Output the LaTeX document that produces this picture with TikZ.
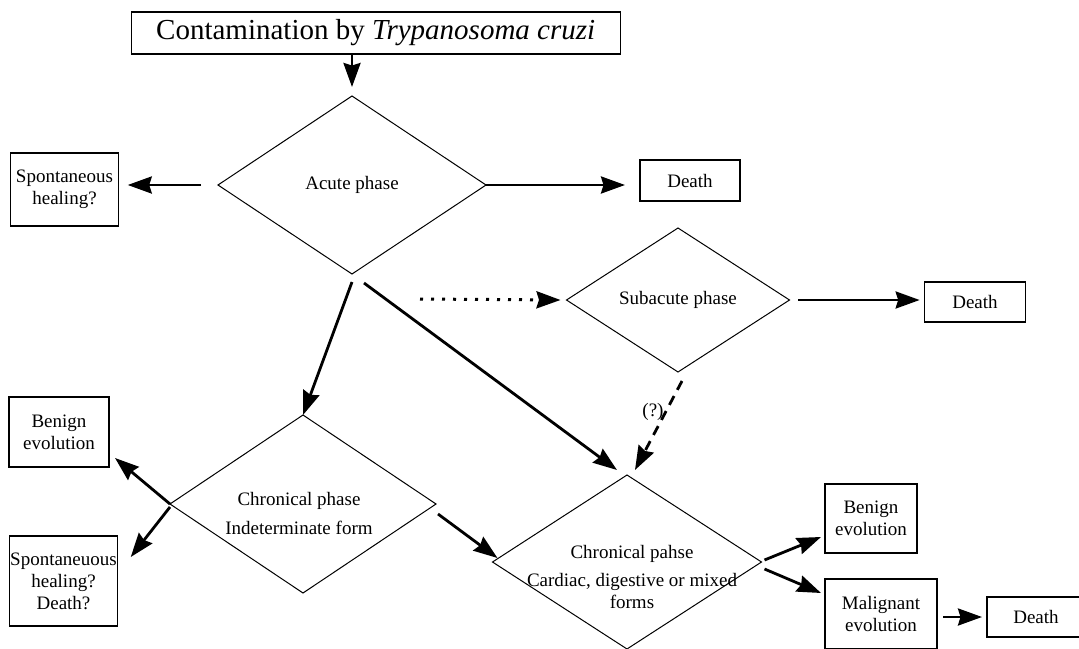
\documentclass[tikz,border=0pt]{standalone}
\usepackage{fontspec}
\setmainfont{Liberation Serif}
\usetikzlibrary{shapes.geometric,arrows.meta}

\begin{document}
\begin{tikzpicture}[x=1pt,y=-1pt,
	every node/.style={font=\fontsize{19pt}{22pt}\selectfont, inner sep=0pt, outer sep=0pt},
	outcome/.style={
		% The shape:
		rectangle,
		% The border:
		draw, line width=1.3pt,
		% Text:
		align=center
		},
	phase/.style={
		% The shape:
		diamond,
		% The border:
		draw, line width=1pt,
		align=center
		},
	arr/.style={line width=2.8pt, -{Stealth[length=24pt,width=17pt,inset=2.5pt]}},
	dotarr/.style={arr, line width=3pt, dash pattern=on 3pt off 8pt},
	dasharr/.style={arr, dash pattern=on 10pt off 7pt}]

	\useasboundingbox (0,0) rectangle (1079,648);

	\node (title) [outcome, minimum width=489pt, minimum height=42pt, font=\fontsize{29pt}{34pt}\selectfont] at (375.7,33) {Contamination by \textit{Trypanosoma cruzi}};
	\node (acute) [phase, minimum width=268pt, minimum height=178pt] at (352,185) {Acute phase};
	\node (spont) [outcome, minimum width=108.5pt, minimum height=73pt] at (64.5,189.5) {Spontaneous\\healing?};
	\node (death) [outcome, minimum width=100pt, minimum height=41pt] at (690,180.5) {Death};
	\node (subacute) [phase, minimum width=223pt, minimum height=144pt] at (678,300) {Subacute phase};
	\node (subdeath) [outcome, minimum width=100.7pt, minimum height=40pt] at (975,302) {Death};
	\coordinate (dotstart) at (420,299);

	% chronic phase, indeterminate form
	\node (indet) [phase, minimum width=266pt, minimum height=178pt] at (303,504) {};
	\node (indettext) [align=center] at (299,513) {Chronical phase\\[7pt]Indeterminate form};
	\node (benign) [outcome, minimum width=100pt, minimum height=70pt] at (59,432) {Benign\\evolution};
	\node (spontb) [outcome, minimum width=108.5pt, minimum height=90pt] at (63.5,581) {Spontaneuous\\healing?\\Death?};

	% chronic phase, determinate forms
	\node (chronic) [phase, minimum width=269pt, minimum height=174pt] at (627,562) {};
	\node (chronictext) [align=center] at (632,577) {Chronical pahse\\[6pt]Cardiac, digestive or mixed\\forms};
	\node (benignb) [outcome, minimum width=92pt, minimum height=69pt] at (871,518.5) {Benign\\evolution};
	\node (malign) [outcome, minimum width=112pt, minimum height=70pt] at (881,614) {Malignant\\evolution};
	\node (maldeath) [outcome, minimum width=98pt, minimum height=40pt] at (1036,617) {Death};

	\path (acute.north |- title.south) edge[arr] ([yshift=9pt]acute.north);
	\path ([xshift=-17pt]acute.west) edge[arr] ([xshift=9pt]spont.east |- acute.west);
	\path (acute.east) edge[arr] ([xshift=-15pt]death.west |- acute.east);
	\path ([yshift=-8pt]acute.south) edge[arr] (indet.north);
	\path ([xshift=12pt,yshift=-9pt]acute.south) edge[arr] ([xshift=-10pt,yshift=5pt]chronic.north);
	\path (dotstart) edge[dotarr] ([xshift=-6pt]subacute.west);
	\path ([xshift=8.5pt]subacute.east) edge[arr] ([xshift=-5pt]subdeath.west |- subacute.east);
	\path ([xshift=4pt,yshift=-9pt]subacute.south) edge[dasharr] node (unknown) [pos=0.35, anchor=east, inner sep=2pt] {(?)} ([xshift=8pt,yshift=5pt]chronic.north);

	\path (indet.west) edge[arr] ([xshift=6pt,yshift=9pt]benign.south east);
	\path ([yshift=-3pt]indet.west) edge[arr] ([xshift=13pt,yshift=-21pt]spontb.north east);
	\path ([xshift=2pt,yshift=-10pt]indet.east) edge[arr] ([xshift=5pt,yshift=4pt]chronic.west);

	\path ([xshift=3pt,yshift=2pt]chronic.east) edge[arr] ([xshift=-4pt,yshift=16pt]benignb.south west);
	\path ([xshift=3pt,yshift=-7pt]chronic.east) edge[arr] ([xshift=-4pt,yshift=-14pt]malign.north west);
	\path ([xshift=6pt]malign.east |- maldeath.west) edge[arr] ([xshift=-5pt]maldeath.west);

\end{tikzpicture}
\end{document}
